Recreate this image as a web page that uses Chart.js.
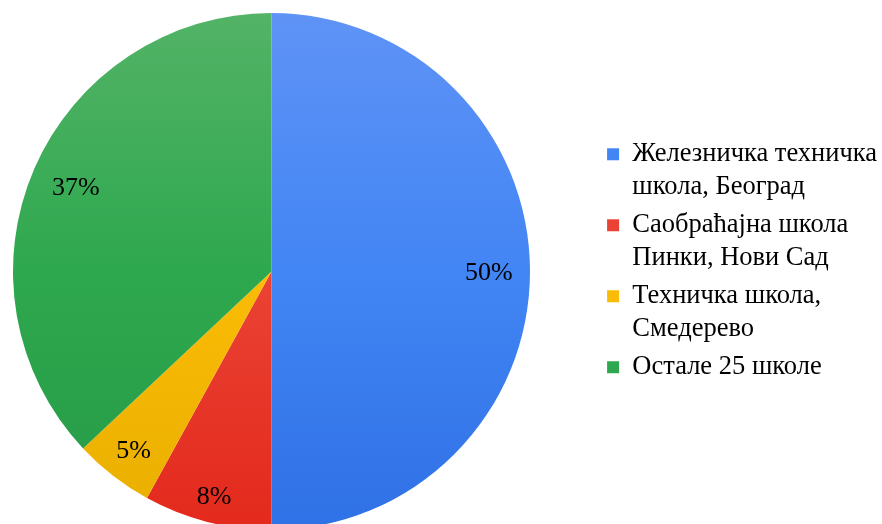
<!DOCTYPE html>
<html>
<head>
<meta charset="utf-8">
<script src="https://cdn.jsdelivr.net/npm/chart.js@4.4.1/dist/chart.umd.min.js"></script>
<style>
  html, body { margin: 0; padding: 0; background: #fff; overflow: hidden; }
  #wrap { width: 882px; height: 540px; }
</style>
</head>
<body>
<div id="wrap"><canvas id="pie-chart"></canvas></div>
<script>
const schools = [
    ['Железничка техничка', 'школа, Београд'],
    ['Саобраћајна школа', 'Пинки, Нови Сад'],
    ['Техничка школа,', 'Смедерево'],
    ['Остале 25 школе']
];
const shares = [50, 8, 5, 37];

const colorsTop = ['#5f93f6', '#f06a60', '#fdc640', '#53b366'];
const colorsMid = ['#4285f4', '#ea4335', '#fbbc05', '#2ea84f'];
const colorsBottom = ['#2f71e6', '#e3291c', '#e9ae00', '#259a45'];

// how far out (share of the radius) each percent label sits
const labelRadius = [0.841, 0.894, 0.871, 0.825];

const FONT = "'Liberation Serif', 'Times New Roman', serif";

// the pie sits in a fixed square left of the legend
const pieBox = { left: 13, top: 13, right: 530, bottom: 530 };

const pieBoxPlugin = {
    id: 'pieBox',
    afterLayout(chart) {
        chart.chartArea = {
            left: pieBox.left,
            top: pieBox.top,
            right: pieBox.right,
            bottom: pieBox.bottom,
            width: pieBox.right - pieBox.left,
            height: pieBox.bottom - pieBox.top
        };
    }
};

const percentPlugin = {
    id: 'percentLabels',
    afterDatasetsDraw(chart) {
        const ctx = chart.ctx;
        const arcs = chart.getDatasetMeta(0).data;
        ctx.save();
        ctx.font = '26px ' + FONT;
        ctx.fillStyle = '#000';
        ctx.textAlign = 'center';
        ctx.textBaseline = 'alphabetic';
        arcs.forEach((arc, i) => {
            const p = arc.getProps(['x', 'y', 'startAngle', 'endAngle', 'outerRadius']);
            const mid = (p.startAngle + p.endAngle) / 2;
            const r = p.outerRadius * labelRadius[i];
            ctx.fillText(shares[i] + '%', p.x + Math.cos(mid) * r, p.y + Math.sin(mid) * r + 8.5);
        });
        ctx.restore();
    }
};

function sliceColor(context) {
    const i = context.dataIndex;
    const area = context.chart.chartArea;
    if (!area) return colorsMid[i];
    const g = context.chart.ctx.createLinearGradient(0, area.top, 0, area.bottom);
    g.addColorStop(0, colorsTop[i]);
    g.addColorStop(0.5, colorsMid[i]);
    g.addColorStop(1, colorsBottom[i]);
    return g;
}

const ctx = document.getElementById('pie-chart').getContext('2d');

new Chart(ctx, {
    type: 'pie',
    data: {
        labels: schools,
        datasets: [{
            data: shares,
            backgroundColor: sliceColor,
            borderWidth: 0
        }]
    },
    options: {
        responsive: true,
        maintainAspectRatio: false,
        animation: false,
        layout: {
            padding: { top: 0, right: -5, bottom: 12, left: 0 }
        },
        plugins: {
            tooltip: { enabled: false },
            legend: {
                position: 'right',
                labels: {
                    boxWidth: 12,
                    boxHeight: 12,
                    padding: 5,
                    color: '#000',
                    font: { family: FONT, size: 26.5, lineHeight: 1.245 },
                    generateLabels(chart) {
                        return schools.map((text, i) => ({
                            text: text,
                            fillStyle: colorsMid[i],
                            strokeStyle: colorsMid[i],
                            lineWidth: 0,
                            hidden: false,
                            index: i
                        }));
                    }
                }
            }
        }
    },
    plugins: [pieBoxPlugin, percentPlugin]
});
</script>
</body>
</html>
